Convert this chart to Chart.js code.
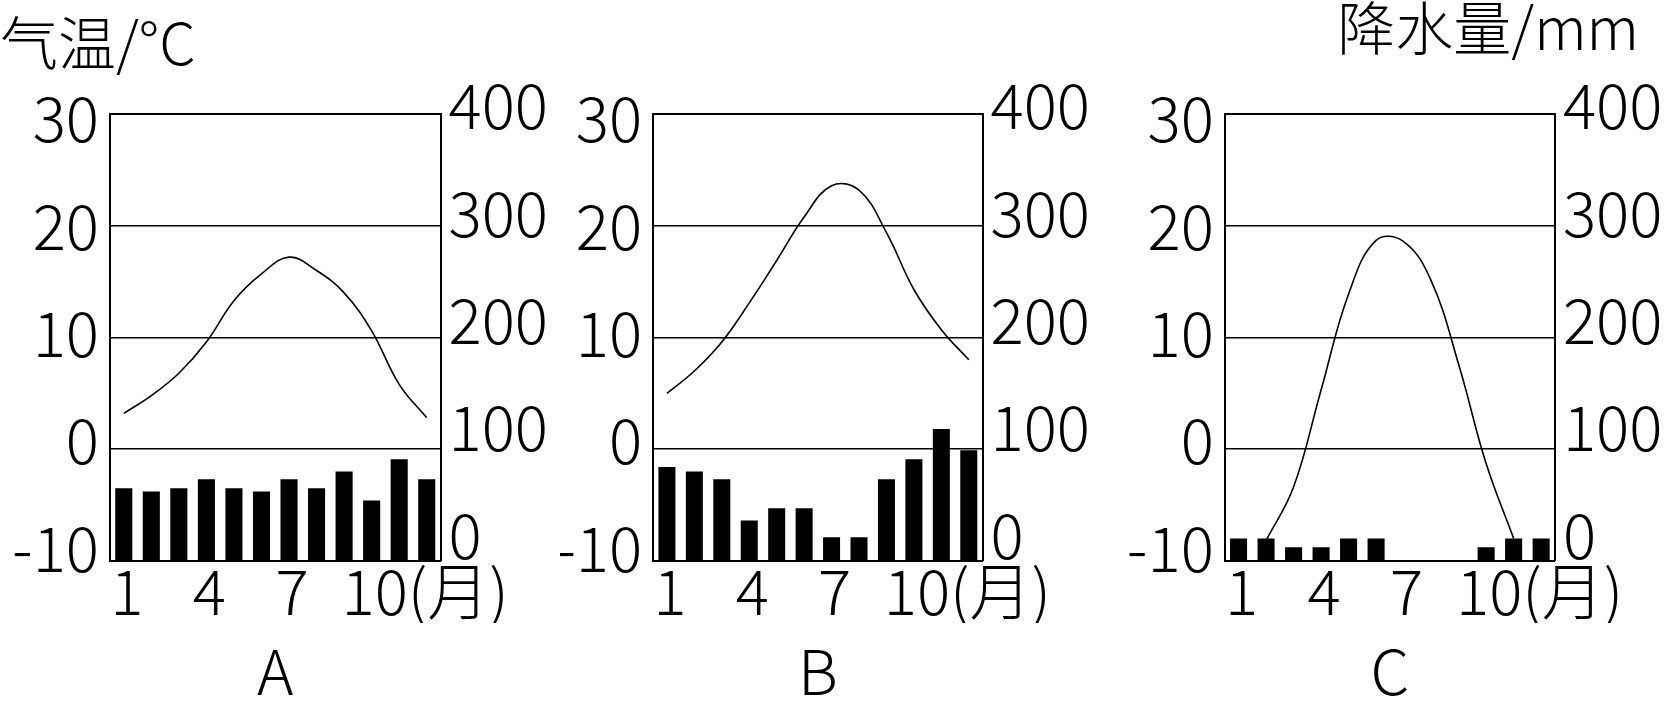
<!DOCTYPE html>
<html>
<head>
<meta charset="utf-8">
<script src="https://cdn.jsdelivr.net/npm/chart.js@4.4.1/dist/chart.umd.min.js"></script>
<style>
html,body{margin:0;padding:0;background:#fff;}
body{width:1669px;height:709px;position:relative;overflow:hidden;}
canvas{position:absolute;top:0;}
</style>
</head>
<body>
<canvas id="cA" style="left:0px" width="560" height="709"></canvas>
<canvas id="cB" style="left:560px" width="560" height="709"></canvas>
<canvas id="cC" style="left:1120px" width="549" height="709"></canvas>
<script>
// ---------- data ----------
const months = ['1','2','3','4','5','6','7','8','9','10','11','12'];
const monthTickLabels = ['1','','','4','','','7','','','10','',''];
const monthUnit = '(月)';
const tempTicks = [-10, 0, 10, 20, 30];
const precipTicks = [0, 100, 200, 300, 400];
const tempTitle = '气温/°C';
const precipTitle = '降水量/mm';
const panelLabels = ['A', 'B', 'C'];

const tempA = [3.2, 4.8, 6.8, 9.6, 13.3, 15.7, 17.2, 16.0, 14.0, 10.6, 5.8, 2.8];
const precipA = [65, 62, 65, 73, 65, 62, 73, 65, 80, 54, 91, 73];

const tempB = [5.0, 7.0, 9.6, 13.1, 16.9, 20.8, 23.6, 23.2, 19.4, 14.3, 10.7, 8.0];
const precipB = [84, 80, 73, 36, 47, 47, 21, 21, 73, 91, 118, 99];

const tempC = [null, -8.2, -3.4, 5.3, 13.9, 18.7, 18.6, 15.1, 7.6, -1.3, -8.0, null];
const precipC = [20, 20, 12, 12, 20, 20, 0, 0, 0, 12, 20, 20];

// ---------- style ----------
const FAMILY = "'Noto Sans CJK SC', 'Noto Sans', sans-serif";
const tickFont = {family: FAMILY, size: 62, weight: 300, lineHeight: 1.2};
const titleFont = {family: FAMILY, size: 58, weight: 300};
const INK = '#000';

const unitPlugin = {
  id: 'monthUnit',
  afterDraw(chart) {
    const sc = chart.scales.x;
    const items = sc.getLabelItems();
    const idx = monthTickLabels.indexOf('10');
    const it = items[idx];
    if (!it) return;
    const ctx = chart.ctx;
    ctx.save();
    ctx.beginPath();
    ctx.rect(0, 0, chart.width, 623);
    ctx.clip();
    ctx.font = it.font.string;
    ctx.fillStyle = INK;
    ctx.textBaseline = it.options.textBaseline;
    ctx.textAlign = 'left';
    const w = ctx.measureText(it.label).width;
    const [tx, ty] = it.options.translation;
    ctx.fillText(monthUnit, tx + w / 2, ty + it.textOffset);
    ctx.restore();
  }
};

const cornerTitlePlugin = {
  id: 'cornerTitle',
  afterDraw(chart, args, opts) {
    if (!opts || !opts.text) return;
    const ctx = chart.ctx;
    ctx.save();
    ctx.font = `${titleFont.weight} ${titleFont.size}px ${FAMILY}`;
    ctx.fillStyle = INK;
    ctx.textBaseline = 'alphabetic';
    ctx.textAlign = opts.align;
    ctx.fillText(opts.text, opts.x, opts.baseline);
    ctx.restore();
  }
};

function makeChart(id, temp, precip, label, leftW, rightW, corner) {
  const fixY = (w) => (s) => { s.width = w; s.paddingTop = 0; s.paddingBottom = 0; };
  return new Chart(document.getElementById(id), {
    type: 'bar',
    data: {
      labels: months,
      datasets: [
        {
          type: 'line', data: temp, xAxisID: 'x', yAxisID: 'yT',
          borderColor: INK, borderWidth: 1.6, pointRadius: 0,
          tension: 0.4, fill: false, order: 0, clip: false
        },
        {
          type: 'bar', data: precip, xAxisID: 'x', yAxisID: 'yP',
          backgroundColor: INK, borderWidth: 0,
          barPercentage: 0.62, categoryPercentage: 1.0, order: 1
        }
      ]
    },
    options: {
      responsive: false,
      animation: false,
      events: [],
      layout: {padding: {top: 114.3, left: 0, right: 0, bottom: 0}},
      plugins: {
        legend: {display: false},
        tooltip: {enabled: false},
        cornerTitle: corner
      },
      scales: {
        x: {
          type: 'category', offset: true,
          grid: {display: false, drawTicks: false},
          border: {display: true, color: INK, width: 2},
          ticks: {
            autoSkip: false, maxRotation: 0, minRotation: 0, padding: -6, labelOffset: 3,
            font: tickFont, color: INK,
            callback: (v, i) => monthTickLabels[i]
          },
          title: {display: true, text: label, font: tickFont, color: INK, padding: {top: 0, bottom: 0}},
          afterFit: (s) => { s.height = 148.3; s.paddingLeft = 0; s.paddingRight = 0; }
        },
        yT: {
          type: 'linear', position: 'left', weight: 0, min: -10, max: 30,
          afterBuildTicks: (s) => { s.ticks = tempTicks.map(v => ({value: v})); },
          ticks: {display: false},
          grid: {color: INK, lineWidth: (c) => (c.tick && c.tick.value === 30) ? 2 : 1.6, drawTicks: false},
          border: {display: false},
          afterFit: fixY(0)
        },
        yL: {
          // label axis for temperature (tick labels only)
          type: 'linear', position: 'left', weight: 1, min: -11.185, max: 30.41,
          afterBuildTicks: (s) => { s.ticks = tempTicks.map(v => ({value: v})); },
          ticks: {font: tickFont, color: INK, padding: 11},
          grid: {display: false, drawTicks: false},
          border: {display: true, color: INK, width: 2},
          afterFit: fixY(leftW)
        },
        yP: {
          type: 'linear', position: 'right', display: false, min: 0, max: 400
        },
        yR: {
          // label axis for precipitation (tick labels only)
          type: 'linear', position: 'right', weight: 1, min: -23.95, max: 392.08,
          afterBuildTicks: (s) => { s.ticks = precipTicks.map(v => ({value: v})); },
          ticks: {font: tickFont, color: INK, padding: 8},
          grid: {display: false, drawTicks: false},
          border: {display: true, color: INK, width: 2},
          afterFit: fixY(rightW)
        }
      }
    },
    plugins: [unitPlugin, cornerTitlePlugin]
  });
}

makeChart('cA', tempA, precipA, panelLabels[0], 110, 119.5, {text: tempTitle, align: 'left', x: 0, baseline: 65});
makeChart('cB', tempB, precipB, panelLabels[1], 93.2, 137.5, null);
makeChart('cC', tempC, precipC, panelLabels[2], 104.8, 114.1, {text: precipTitle, align: 'right', x: 519, baseline: 50});
</script>
</body>
</html>
